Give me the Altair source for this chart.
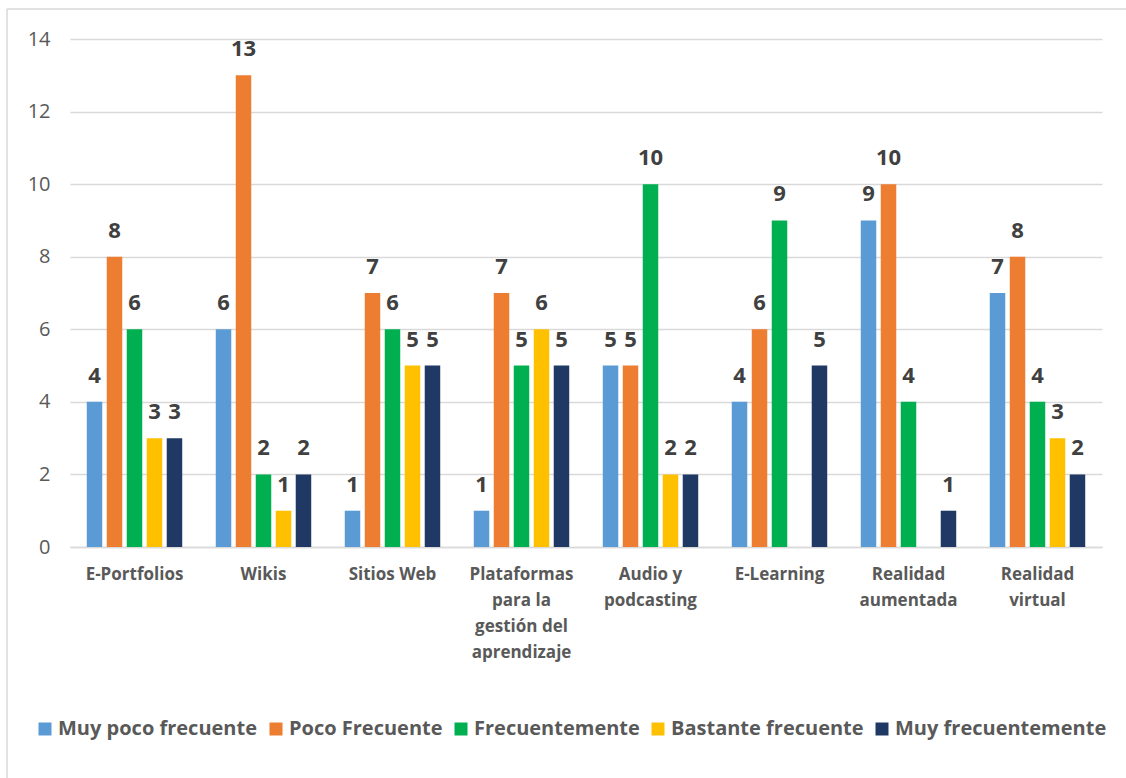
import altair as alt
import pandas as pd

categories = ["E-Portfolios", "Wikis", "Sitios Web",
              "Plataformas\npara la\ngestión del\naprendizaje",
              "Audio y\npodcasting", "E-Learning", "Realidad\naumentada", "Realidad\nvirtual"]
series = ["Muy poco frecuente", "Poco Frecuente", "Frecuentemente",
          "Bastante frecuente", "Muy frecuentemente"]
colors = ["#5B9BD5", "#ED7D31", "#00B050", "#FFC000", "#1F3864"]
values = {
    "Muy poco frecuente": [4, 6, 1, 1, 5, 4, 9, 7],
    "Poco Frecuente": [8, 13, 7, 7, 5, 6, 10, 8],
    "Frecuentemente": [6, 2, 6, 5, 10, 9, 4, 4],
    "Bastante frecuente": [3, 1, 5, 6, 2, None, None, 3],
    "Muy frecuentemente": [3, 2, 5, 5, 2, 5, 1, 2],
}

rows = []
for s in series:
    for c, v in zip(categories, values[s]):
        if v is not None:
            rows.append({"cat": c, "serie": s, "val": v})
df = pd.DataFrame(rows)

FONT = "Open Sans"
W, H = 1032, 508

x = alt.X("cat:N", sort=categories, title=None,
          scale=alt.Scale(paddingInner=0.26, paddingOuter=0.13),
          axis=alt.Axis(labelAngle=0, labelExpr="split(datum.label, '\\n')",
                        labelFont=FONT, labelFontSize=17, labelFontWeight="bold",
                        labelColor="#595959", labelLineHeight=26, labelPadding=19,
                        ticks=False, domainColor="#d9d9d9", domainWidth=1.5,
                        labelBaseline="top", grid=False))
xo = alt.XOffset("serie:N", sort=series, scale=alt.Scale(paddingInner=0.225, paddingOuter=0))
y = alt.Y("val:Q", title=None,
          scale=alt.Scale(domain=[0, 14], nice=False),
          axis=alt.Axis(values=list(range(0, 15, 2)), labelFont=FONT, labelFontSize=20,
                        labelColor="#595959", labelPadding=20, ticks=False, domain=False,
                        gridColor="#d9d9d9", gridWidth=1.5))
color = alt.Color("serie:N", sort=series, scale=alt.Scale(domain=series, range=colors),
                  legend=alt.Legend(title=None, orient="none", direction="horizontal",
                                    legendX=-35, legendY=680, columns=5,
                                    symbolType="square", symbolSize=169, symbolStrokeWidth=0,
                                    labelFont=FONT, labelFontSize=20, labelFontWeight="bold",
                                    labelColor="#595959", labelOffset=3, columnPadding=8,
                                    labelLimit=400))

base = alt.Chart(df)
bars = base.mark_bar().encode(x=x, xOffset=xo, y=y, color=color)
labels = base.mark_text(font=FONT, fontSize=22, fontWeight="bold", color="#404040",
                        baseline="middle", dy=-26).encode(
    x=x, xOffset=xo, y=y, text=alt.Text("val:Q"))

border_top = alt.Chart(pd.DataFrame({"a": [0]})).mark_rule(color="#d9d9d9", strokeWidth=1.5).encode(
    x=alt.value(-63), x2=alt.value(1100), y=alt.value(-30))
border_left = alt.Chart(pd.DataFrame({"a": [0]})).mark_rule(color="#d9d9d9", strokeWidth=1.5).encode(
    x=alt.value(-63), y=alt.value(-30), y2=alt.value(760))

chart = alt.layer(bars, labels, border_top, border_left).properties(
    width=W, height=H,
    autosize=alt.AutoSizeParams(type="none"),
    padding={"left": 70, "top": 39, "right": 24, "bottom": 231},
    background="white",
).configure_view(stroke=None)

chart.save("out.html", embed_options={"renderer": "svg", "actions": False})
